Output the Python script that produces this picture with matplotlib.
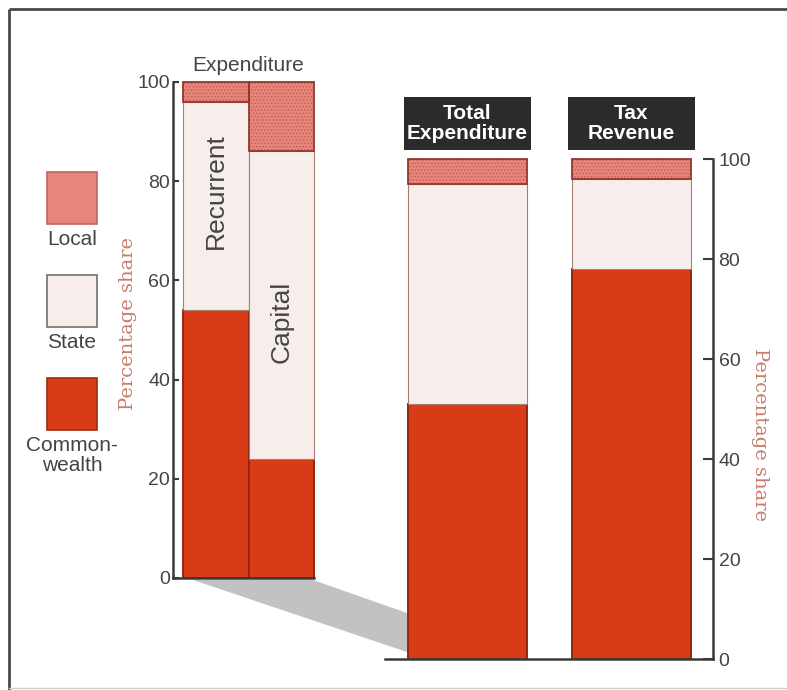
import numpy as np
import matplotlib.pyplot as plt
from matplotlib.patches import Rectangle, Polygon

# data (percentage shares)
exp_types = ["Recurrent", "Capital"]
exp_commonwealth = [54, 24]
exp_state = [42, 62]
exp_local = [4, 14]

totals = ["Total\nExpenditure", "Tax\nRevenue"]
tot_commonwealth = [51, 78]
tot_state = [44, 18]
tot_local = [5, 4]

legend_labels = ["Local", "State", "Common-\nwealth"]
ticks = [0, 20, 40, 60, 80, 100]

col_comm = "#d73c17"
col_state = "#f7eeeb"
col_local = "#e8857b"
col_text = "#444444"
col_axis = "#3a3a3a"
col_label = "#c77b6b"

plt.rcParams["font.family"] = ["Liberation Sans", "DejaVu Sans"]
plt.rcParams["hatch.linewidth"] = 0.6

W, H = 787, 690
fig = plt.figure(figsize=(W / 100, H / 100), dpi=100)

# overlay in pixel coordinates for the frame, legend and zoom wedge
ov = fig.add_axes([0, 0, 1, 1], zorder=0)
ov.set_xlim(0, W)
ov.set_ylim(H, 0)
ov.axis("off")
ov.plot([9, W], [9, 9], color="#4a4a4a", lw=2.0, solid_capstyle="butt")
ov.plot([9, 9], [9, H], color="#4a4a4a", lw=2.0, solid_capstyle="butt")
ov.plot([9, W], [688, 688], color="#d0d0d0", lw=1.0)
ov.add_patch(Polygon([(193, 580), (313, 580), (407, 613), (407, 652)],
                     closed=True, facecolor="#c2c2c2", edgecolor="none"))

# legend squares
leg_colors = [col_local, col_state, col_comm]
leg_edges = ["#c0665a", "#707070", "#a02a12"]
for i, (lab, c, ec) in enumerate(zip(legend_labels, leg_colors, leg_edges)):
    top = 172 + i * 103
    ov.add_patch(Rectangle((47, top), 50, 52, facecolor=c, edgecolor=ec, lw=1.2))
    ov.text(72, top + 58, lab, ha="center", va="top", fontsize=15,
            color=col_text, linespacing=1.05)


def stack(ax, x, w, comm, state, local):
    ax.bar(x, comm, w, color=col_comm, edgecolor="#8e2812", lw=1.4, clip_on=False)
    ax.bar(x, state, w, bottom=comm, color=col_state, edgecolor="#a58070",
           lw=0.8, clip_on=False)
    b2 = np.add(comm, state)
    ax.bar(x, local, w, bottom=b2, color=col_local, edgecolor="#c25a50",
           hatch=".....", lw=0, clip_on=False)
    ax.bar(x, local, w, bottom=b2, fill=False, edgecolor="#8f3a2a", lw=1.3,
           clip_on=False)


# left axes: expenditure split
ax1 = fig.add_axes([173 / W, (H - 578) / H, 141 / W, 496 / H], zorder=1)
ax1.set_facecolor("none")
x1 = np.arange(len(exp_types)) + 0.5
stack(ax1, x1, 1.0, exp_commonwealth, exp_state, exp_local)
ax1.set_xlim(-0.153, 2.0)
ax1.set_ylim(0, 100)
ax1.set_xticks([])
ax1.set_yticks(ticks)
ax1.tick_params(axis="y", direction="in", length=4, width=1.5, color=col_axis,
                labelcolor=col_text, labelsize=14, pad=2)
for s in ["top", "right"]:
    ax1.spines[s].set_visible(False)
for s in ["left", "bottom"]:
    ax1.spines[s].set_color(col_axis)
    ax1.spines[s].set_linewidth(1.8)
ax1.text(1.0, 103.4, "Expenditure", ha="center", va="center", fontsize=15,
         color=col_text, clip_on=False)
ax1.text(x1[0], 78, exp_types[0], rotation=90, ha="center", va="center",
         fontsize=19, color=col_text)
ax1.text(x1[1], 51.6, exp_types[1], rotation=90, ha="center", va="center",
         fontsize=19, color=col_text)

# right axes: total expenditure vs tax revenue
ax2 = fig.add_axes([385 / W, 31 / H, 328 / W, 500 / H], zorder=1)
ax2.set_facecolor("none")
x2 = np.arange(len(totals))
stack(ax2, x2, 0.725, tot_commonwealth, tot_state, tot_local)
ax2.set_xlim(-0.503, 1.497)
ax2.set_ylim(0, 100)
ax2.set_xticks([])
ax2.yaxis.tick_right()
ax2.set_yticks(ticks)
ax2.tick_params(axis="y", direction="in", length=7, width=1.5, color=col_axis,
                labelcolor=col_text, labelsize=14, pad=4)
for s in ["top", "left"]:
    ax2.spines[s].set_visible(False)
for s in ["right", "bottom"]:
    ax2.spines[s].set_color(col_axis)
    ax2.spines[s].set_linewidth(1.8)
for xi, lab in zip(x2, totals):
    ax2.add_patch(Rectangle((xi - 0.39, 101.8), 0.78, 10.6, facecolor="#2b2b2b",
                            edgecolor="none", clip_on=False))
    ax2.text(xi, 107.1, lab, ha="center", va="center", fontsize=15,
             fontweight="bold", color="white", linespacing=1.1, clip_on=False)

fig.text(128 / W, 1 - 323 / H, "Percentage share", rotation=90, ha="center",
         va="center", family="DejaVu Serif", fontsize=14, color=col_label)
fig.text(760 / W, 1 - 435 / H, "Percentage share", rotation=270, ha="center",
         va="center", family="DejaVu Serif", fontsize=14, color=col_label)

fig.savefig("out.png", dpi=100)
plt.close(fig)
